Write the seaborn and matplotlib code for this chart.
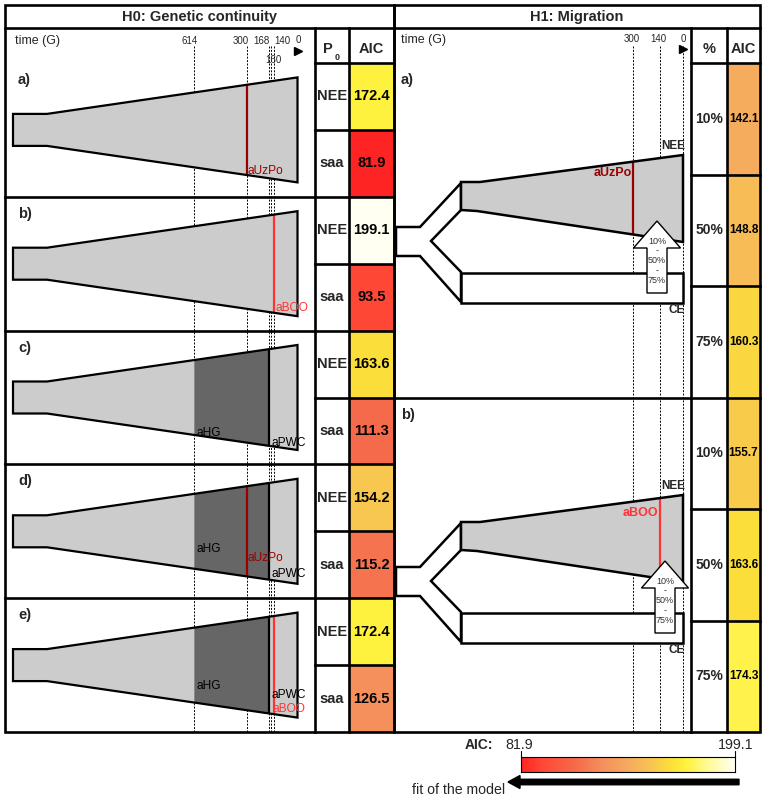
import numpy as np
import pandas as pd
import matplotlib
matplotlib.use('Agg')
import matplotlib.pyplot as plt
from matplotlib.colors import LinearSegmentedColormap
from matplotlib.patches import Polygon, Rectangle, FancyArrow
import seaborn as sns

# ---------------- data ----------------
h0_models = ['a)', 'b)', 'c)', 'd)', 'e)']
h0_p0 = ['NEE', 'saa']
h0_aic_nee = [172.4, 199.1, 163.6, 154.2, 172.4]
h0_aic_saa = [81.9, 93.5, 111.3, 115.2, 126.5]
h0_ticks = [614, 300, 168, 160, 140, 0]
h0_samples = [['aUzPo'], ['aBOO'], ['aHG', 'aPWC'],
              ['aHG', 'aUzPo', 'aPWC'], ['aHG', 'aPWC', 'aBOO']]
sample_time = {'aHG': 614, 'aUzPo': 300, 'aPWC': 168, 'aBOO': 140}
hg_end = 168

h1_models = ['a)', 'b)']
h1_pct = ['10%', '50%', '75%']
h1_aic_a = [142.1, 148.8, 160.3]
h1_aic_b = [155.7, 163.6, 174.3]
h1_samples = ['aUzPo', 'aBOO']
h1_ticks = [300, 140, 0]
aic_min, aic_max = 81.9, 199.1

# ---------------- style ----------------
sns.set_theme(style='white')
plt.rcParams['font.family'] = ['Liberation Sans', 'DejaVu Sans']

W, H = 767, 800
fig = plt.figure(figsize=(W / 100, H / 100), dpi=100)
fig.patch.set_facecolor('white')

cmap = LinearSegmentedColormap.from_list('aic', [
    (0.00, '#ff2424'), (0.10, '#ff4836'), (0.25, '#f56a4a'),
    (0.38, '#f58f5c'), (0.51, '#f5ac5e'), (0.62, '#f8c84e'),
    (0.70, '#fbdf3a'), (0.77, '#fff23c'), (0.87, '#fffa90'),
    (1.00, '#fffff2')])

def add_ax(x0, y0, x1, y1, **kw):
    return fig.add_axes([x0 / W, 1 - y1 / H, (x1 - x0) / W, (y1 - y0) / H], **kw)

# H0 AIC heatmap
h0_df = pd.DataFrame({'AIC': [v for pair in zip(h0_aic_nee, h0_aic_saa) for v in pair]},
                     index=[f'{m}{p}' for m in h0_models for p in h0_p0])
ax_h0 = add_ax(349, 63, 394, 732)
sns.heatmap(h0_df, ax=ax_h0, cmap=cmap, vmin=aic_min, vmax=aic_max, cbar=False,
            annot=True, fmt='.1f', xticklabels=False, yticklabels=False,
            annot_kws=dict(color='black', fontweight='bold', fontsize=10.5))

# H1 AIC heatmap
h1_df = pd.DataFrame({'AIC': h1_aic_a + h1_aic_b},
                     index=[f'{m}{p}' for m in h1_models for p in h1_pct])
ax_h1 = add_ax(727, 63, 760, 732)
sns.heatmap(h1_df, ax=ax_h1, cmap=cmap, vmin=aic_min, vmax=aic_max, cbar=False,
            annot=True, fmt='.1f', xticklabels=False, yticklabels=False,
            annot_kws=dict(color='black', fontweight='bold', fontsize=8.5))

# colour bar
cax = add_ax(521, 757, 735, 772)
grad = pd.DataFrame([np.linspace(aic_min, aic_max, 256)])
sns.heatmap(grad, ax=cax, cmap=cmap, vmin=aic_min, vmax=aic_max, cbar=False,
            xticklabels=False, yticklabels=False)
for s in cax.spines.values():
    s.set_visible(True); s.set_color('black'); s.set_linewidth(0.8)

# overlay axes in pixel coordinates
ax = fig.add_axes([0, 0, 1, 1], zorder=10)
ax.patch.set_visible(False)
ax.set_xlim(0, W); ax.set_ylim(H, 0); ax.axis('off')

LW = 1.9
def hline(y, x0, x1, lw=LW, **kw):
    ax.plot([x0, x1], [y, y], color='black', lw=lw, solid_capstyle='projecting', **kw)
def vline(x, y0, y1, lw=LW, **kw):
    ax.plot([x, x], [y0, y1], color='black', lw=lw, solid_capstyle='projecting', **kw)

DARKRED, RED = '#990000', '#ff3333'
LGRAY, DGRAY = '#cccccc', '#666666'
scol = {'aUzPo': DARKRED, 'aBOO': RED, 'aPWC': 'black', 'aHG': 'black'}

# ---------------- H0 panel ----------------
def tx0(t):
    return 297.5 - 0.168 * t

h0_bounds = np.linspace(63, 732, 6)
ax.text(199, 16.5, 'H0: Genetic continuity', ha='center', va='center',
        fontsize=10.5, fontweight='bold')
ax.text(15, 41, 'time (G)', ha='left', va='center', fontsize=9)
tick_pos = {614: (-5, 41, 'center'), 300: (-6, 41, 'center'), 168: (0.5, 41, 'right'),
            140: (0, 41, 'left'), 160: (3, 60, 'center'), 0: (0.5, 40, 'center')}
for t in h0_ticks:
    dx, y, ha = tick_pos[t]
    ax.text(tx0(t) + dx, y, str(t), ha=ha, va='center', fontsize=7)
    if t != 0:
        ax.plot([tx0(t)] * 2, [46, 732], color='black', lw=0.7, ls=(0, (2, 1.5)), zorder=1)
ax.plot([tx0(0)], [50.5], marker='>', color='black', markersize=5.5)

XL, XN, XR = 13, 47, tx0(0)
def top0(x, cy):
    return cy - 16 - (x - XN) * 36.5 / (XR - XN)
def bot0(x, cy):
    return cy + 16 + (x - XN) * 36.5 / (XR - XN)

label_off = [
    {'aUzPo': (0.5, 41)},
    {'aBOO': (1.5, 44)},
    {'aHG': (2, 35), 'aPWC': (2, 46)},
    {'aHG': (2, 18), 'aUzPo': (0.5, 27), 'aPWC': (2, 43)},
    {'aHG': (2, 21), 'aPWC': (2, 30), 'aBOO': (-1, 44)},
]

for i, (m, samples) in enumerate(zip(h0_models, h0_samples)):
    y0, y1 = h0_bounds[i], h0_bounds[i + 1]
    cy = (y0 + y1) / 2
    ax.text(18, y0 + 17, m, ha='left', va='center', fontsize=10.5, fontweight='bold')
    pts = [(XL, cy - 16), (XN, cy - 16), (XR, cy - 52.5), (XR, cy + 52.5),
           (XN, cy + 16), (XL, cy + 16)]
    ax.add_patch(Polygon(pts, closed=True, facecolor=LGRAY, edgecolor='none', zorder=2))
    if 'aHG' in samples:
        xa, xb = tx0(sample_time['aHG']), tx0(hg_end)
        ax.add_patch(Polygon([(xa, top0(xa, cy)), (xb, top0(xb, cy)),
                              (xb, bot0(xb, cy)), (xa, bot0(xa, cy))],
                             closed=True, facecolor=DGRAY, edgecolor='none', zorder=3))
    for s in samples:
        if s == 'aHG':
            continue
        x = tx0(sample_time[s])
        ax.plot([x, x], [top0(x, cy), bot0(x, cy)], color=scol[s], lw=1.6,
                zorder=4, solid_capstyle='butt')
    ax.add_patch(Polygon(pts, closed=True, fill=False, edgecolor='black', lw=1.6,
                         joinstyle='miter', zorder=5))
    for s in samples:
        dx, dy = label_off[i][s]
        x = tx0(sample_time[s]) + dx
        ax.text(x, cy + dy, s, ha='left', va='center', fontsize=8.6,
                color=scol[s], zorder=6)
    # P0 labels
    for k, p in enumerate(h0_p0):
        ax.text(332, y0 + (y1 - y0) * (0.25 + 0.5 * k), p, ha='center', va='center',
                fontsize=10.5, fontweight='bold')
    hline((y0 + y1) / 2, 315, 394)
    if i > 0:
        hline(y0, 5, 394)

# header of table columns
ax.text(328, 49, 'P', ha='center', va='center', fontsize=10.5, fontweight='bold')
ax.text(337, 58, '0', ha='center', va='center', fontsize=6.5, fontweight='bold')
ax.text(371.5, 49, 'AIC', ha='center', va='center', fontsize=10.5, fontweight='bold')

# frame H0
ax.add_patch(Rectangle((5, 5), 389, 727, fill=False, edgecolor='black', lw=LW))
hline(28, 5, 394)
vline(315, 28, 732)
vline(349, 28, 732)
hline(63, 315, 394)

# ---------------- H1 panel ----------------
def tx1(t):
    return 683 - 0.1667 * t

h1_sub = np.linspace(63, 732, 7)
ax.text(577, 16.5, 'H1: Migration', ha='center', va='center',
        fontsize=10.5, fontweight='bold')
ax.text(401, 40, 'time (G)', ha='left', va='center', fontsize=9)
for t in h1_ticks:
    ax.text(tx1(t) - (1 if t else 0), 39.5, str(t), ha='center', va='center', fontsize=7)
    ax.plot([tx1(t)] * 2, [46, 732], color='black', lw=0.7, ls=(0, (2, 1.5)), zorder=1)
ax.plot([tx1(0)], [48.5], marker='>', color='black', markersize=5.5)

def top1(x, dy):
    return 182 + dy - (x - 480) * 27 / 203
def bot1(x, dy):
    return 211 + dy + (x - 477) * 31 / 206

for r, (m, s) in enumerate(zip(h1_models, h1_samples)):
    dy = 340 * r
    ax_dx = 8 * r
    ax.text(401, 63 + 334.5 * r + 17, m, ha='left', va='center',
            fontsize=10.5, fontweight='bold')
    # ancestral Y split
    Y = [(396, 227), (420, 227), (461, 183), (461, 210), (431, 241),
         (461, 272), (461, 302), (420, 256), (396, 256)]
    ax.add_patch(Polygon([(x, y + dy) for x, y in Y], closed=True, facecolor='white',
                         edgecolor='black', lw=1.8, joinstyle='miter', zorder=2))
    # NEE population
    nee = [(461, 182 + dy), (480, 182 + dy), (683, 155 + dy), (683, 242 + dy),
           (477, 211 + dy), (461, 210 + dy)]
    ax.add_patch(Polygon(nee, closed=True, facecolor=LGRAY, edgecolor='none', zorder=3))
    x = tx1(sample_time[s])
    ax.plot([x, x], [top1(x, dy), bot1(x, dy)], color=scol[s], lw=1.6, zorder=4,
            solid_capstyle='butt')
    ax.add_patch(Polygon(nee, closed=True, fill=False, edgecolor='black', lw=1.8,
                         joinstyle='miter', zorder=5))
    # CE population
    ax.add_patch(Rectangle((461, 273 + dy), 222, 30, facecolor='white',
                           edgecolor='black', lw=1.8, zorder=5))
    ax.text(x - 1, 173 + dy, s, ha='right', va='center', fontsize=9,
            fontweight='bold', color=scol[s], zorder=6)
    ax.text(685, 146 + dy, 'NEE', ha='right', va='center', fontsize=8.5,
            fontweight='bold', zorder=6)
    ax.text(685, 310 + dy, 'CE', ha='right', va='center', fontsize=8.5,
            fontweight='bold', zorder=6)
    # migration arrow
    cx = 657 + ax_dx
    arr = [(cx, 221 + dy), (cx + 23.5, 248 + dy), (cx + 10, 248 + dy), (cx + 10, 293 + dy),
           (cx - 10, 293 + dy), (cx - 10, 248 + dy), (cx - 23.5, 248 + dy)]
    ax.add_patch(Polygon(arr, closed=True, facecolor='white', edgecolor='black',
                         lw=1.0, joinstyle='miter', zorder=7))
    for k, txt in enumerate(['10%', '-', '50%', '-', '75%']):
        ax.text(cx, 241 + dy + 9.8 * k, txt, ha='center', va='center', fontsize=6.5,
                color='#333333', zorder=8)

for k in range(6):
    ax.text(709, (h1_sub[k] + h1_sub[k + 1]) / 2, h1_pct[k % 3], ha='center',
            va='center', fontsize=10, fontweight='bold')
    if k in (1, 2, 4, 5):
        hline(h1_sub[k], 691, 760)
hline(h1_sub[3], 394, 760)

ax.text(709, 49, '%', ha='center', va='center', fontsize=10.5, fontweight='bold')
ax.text(743.5, 49, 'AIC', ha='center', va='center', fontsize=10.5, fontweight='bold')

ax.add_patch(Rectangle((394, 5), 366, 727, fill=False, edgecolor='black', lw=LW))
hline(28, 394, 760)
vline(691, 28, 732)
vline(727, 28, 732)
hline(63, 691, 760)

# ---------------- colour legend ----------------
ax.text(493, 745, 'AIC:', ha='right', va='center', fontsize=10, fontweight='bold')
ax.text(519, 745, f'{aic_min}', ha='center', va='center', fontsize=10.3)
ax.text(736, 745, f'{aic_max}', ha='center', va='center', fontsize=10.3)
ax.plot([521, 521], [751, 757], color='black', lw=0.8)
ax.plot([735, 735], [751, 757], color='black', lw=0.8)
ax.add_patch(FancyArrow(739, 782, -231, 0, width=5.5, head_width=13, head_length=12,
                        length_includes_head=True, color='black'))
ax.text(412, 790, 'fit of the model', ha='left', va='center', fontsize=10.2)

fig.savefig('out.png', dpi=100)
